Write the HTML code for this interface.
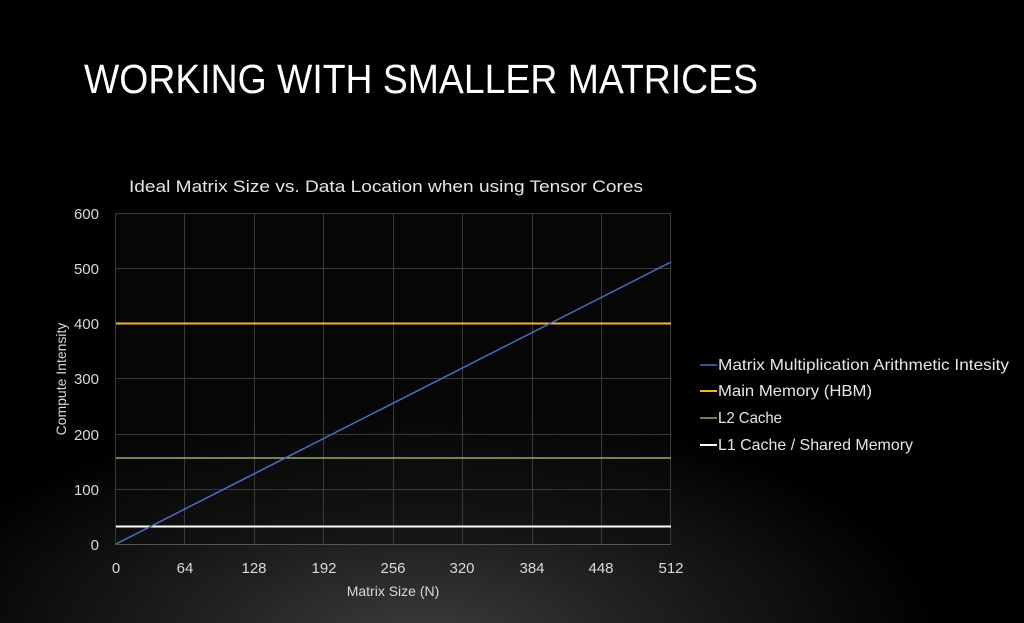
<!DOCTYPE html>
<html><head><style>
html,body{margin:0;padding:0;}
body{width:1024px;height:623px;overflow:hidden;background:#000;}
svg{display:block;}
text{font-family:"Liberation Sans",sans-serif;}
</style></head><body>
<svg width="1024" height="623" viewBox="0 0 1024 623" xmlns="http://www.w3.org/2000/svg">
<defs>
<radialGradient id="bg" cx="420" cy="640" r="520" gradientUnits="userSpaceOnUse" gradientTransform="translate(420 640) scale(1 0.45) translate(-420 -640)">
<stop offset="0" stop-color="#3c3c3e"/>
<stop offset="0.5" stop-color="#1c1c1d"/>
<stop offset="1" stop-color="#000"/>
</radialGradient>
</defs>
<rect width="1024" height="623" fill="#000"/>
<rect width="1024" height="623" fill="url(#bg)"/>
<text x="84" y="93" fill="#fff" font-size="41" textLength="674" lengthAdjust="spacingAndGlyphs">WORKING WITH SMALLER MATRICES</text>
<text x="129" y="192" fill="#e6e6e6" font-size="17" textLength="514" lengthAdjust="spacingAndGlyphs">Ideal Matrix Size vs. Data Location when using Tensor Cores</text>
<rect x="115" y="213" width="556" height="331" fill="#0b0b0b" opacity="0.5"/>
<g stroke="#3a3a3a" stroke-width="1">
<line x1="115" y1="213.5" x2="671" y2="213.5"/>
<line x1="115" y1="268.5" x2="671" y2="268.5"/>
<line x1="115" y1="323.5" x2="671" y2="323.5"/>
<line x1="115" y1="378.5" x2="671" y2="378.5"/>
<line x1="115" y1="434.5" x2="671" y2="434.5"/>
<line x1="115" y1="489.5" x2="671" y2="489.5"/>
<line x1="115" y1="544.5" x2="671" y2="544.5" stroke="#555"/>
<line x1="115.5" y1="213" x2="115.5" y2="544"/>
<line x1="184.5" y1="213" x2="184.5" y2="544"/>
<line x1="254.5" y1="213" x2="254.5" y2="544"/>
<line x1="323.5" y1="213" x2="323.5" y2="544"/>
<line x1="393.5" y1="213" x2="393.5" y2="544"/>
<line x1="462.5" y1="213" x2="462.5" y2="544"/>
<line x1="532.5" y1="213" x2="532.5" y2="544"/>
<line x1="601.5" y1="213" x2="601.5" y2="544"/>
<line x1="670.5" y1="213" x2="670.5" y2="544"/>
</g>
<line x1="116" y1="323.5" x2="671" y2="323.5" stroke="#f0b43a" stroke-width="2"/>
<line x1="116" y1="458" x2="671" y2="458" stroke="#8fb069" stroke-width="1.5"/>
<line x1="116" y1="526.5" x2="671" y2="526.5" stroke="#fff" stroke-width="2"/>
<line x1="116" y1="544" x2="671" y2="262" stroke="#4a6fc0" stroke-width="1.5"/>
<g fill="#d9d9d9" font-size="15" text-anchor="end">
<text x="99" y="219">600</text>
<text x="99" y="274">500</text>
<text x="99" y="329">400</text>
<text x="99" y="384">300</text>
<text x="99" y="440">200</text>
<text x="99" y="495">100</text>
<text x="99" y="550">0</text>
</g>
<g fill="#d9d9d9" font-size="15" text-anchor="middle">
<text x="116" y="573">0</text>
<text x="185" y="573">64</text>
<text x="254" y="573">128</text>
<text x="324" y="573">192</text>
<text x="393" y="573">256</text>
<text x="462" y="573">320</text>
<text x="532" y="573">384</text>
<text x="601" y="573">448</text>
<text x="671" y="573">512</text>
<text x="393" y="596" font-size="14">Matrix Size (N)</text>
</g>
<text transform="translate(66 379) rotate(-90)" fill="#d9d9d9" font-size="14" text-anchor="middle">Compute Intensity</text>
<g font-size="16" fill="#e6e6e6">
<line x1="700" y1="365" x2="717" y2="365" stroke="#4a6fc0" stroke-width="1.5"/>
<text x="718" y="370" textLength="291" lengthAdjust="spacingAndGlyphs">Matrix Multiplication Arithmetic Intesity</text>
<line x1="700" y1="391" x2="717" y2="391" stroke="#f0b43a" stroke-width="2"/>
<text x="718" y="396" textLength="154" lengthAdjust="spacingAndGlyphs">Main Memory (HBM)</text>
<line x1="700" y1="418" x2="717" y2="418" stroke="#8fb069" stroke-width="1.5"/>
<text x="718" y="423" textLength="64" lengthAdjust="spacingAndGlyphs">L2 Cache</text>
<line x1="700" y1="445" x2="717" y2="445" stroke="#fff" stroke-width="2"/>
<text x="718" y="450" textLength="195" lengthAdjust="spacingAndGlyphs">L1 Cache / Shared Memory</text>
</g>
</svg>
</body></html>
